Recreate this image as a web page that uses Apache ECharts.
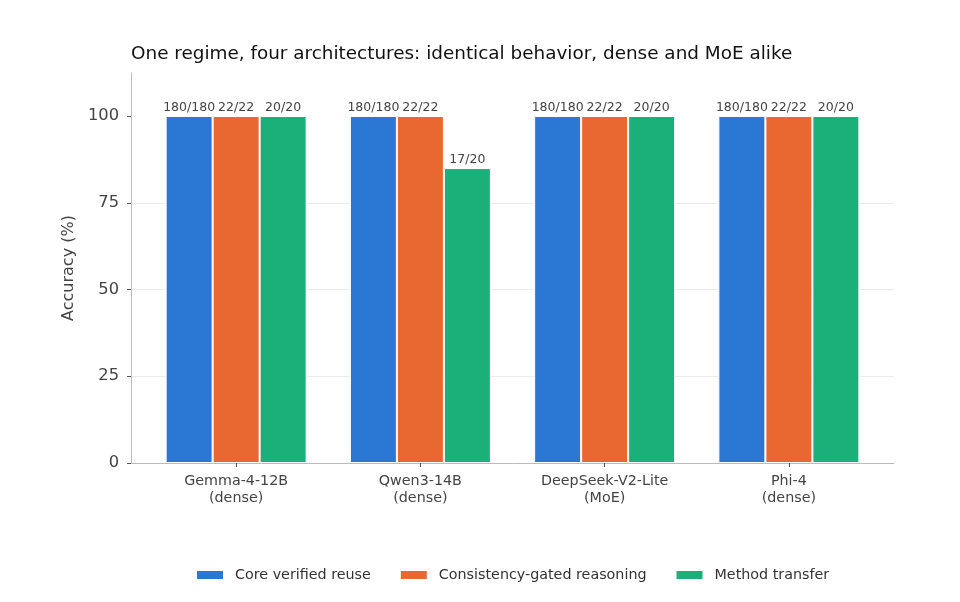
<!DOCTYPE html>
<html>
<head>
<meta charset="utf-8">
<script src="https://cdn.jsdelivr.net/npm/echarts@6/dist/echarts.min.js"></script>
<style>
  html, body { margin: 0; padding: 0; background: #fff; }
  #chart { width: 960px; height: 602px; }
</style>
</head>
<body>
<div id="chart"></div>
<script>
// data
const models = ['Gemma-4-12B\n(dense)', 'Qwen3-14B\n(dense)', 'DeepSeek-V2-Lite\n(MoE)', 'Phi-4\n(dense)']
const seriesNames = ['Core verified reuse', 'Consistency-gated reasoning', 'Method transfer']
const coreAcc = [100, 100, 100, 100]
const gatedAcc = [100, 100, 100, 100]
const transferAcc = [100, 85, 100, 100]
const coreLabels = ['180/180', '180/180', '180/180', '180/180']
const gatedLabels = ['22/22', '22/22', '22/22', '22/22']
const transferLabels = ['20/20', '17/20', '20/20', '20/20']
const yTicks = [0, 25, 50, 75, 100]
const colors = ['#2a77d4', '#e96832', '#1bb07a']

const font = 'DejaVu Sans'
const yMax = 112.4

let chart = echarts.init(document.getElementById('chart'))

function barSeries(name, values, labels, color) {
    return {
        name: name,
        type: 'bar',
        xAxisIndex: 1,
        yAxisIndex: 1,
        barWidth: 47,
        barGap: '0%',
        itemStyle: { color: color, borderColor: '#fff', borderWidth: 1 },
        label: {
            show: true,
            position: 'top',
            distance: 2,
            fontFamily: font,
            fontSize: 12.5,
            color: '#444',
            formatter: (p) => labels[p.dataIndex],
        },
        data: values,
    }
}

chart.setOption({
    animation: false,
    textStyle: { fontFamily: font },
    title: {
        text: 'One regime, four architectures: identical behavior, dense and MoE alike',
        left: 126,
        top: 40,
        textStyle: { fontFamily: font, fontSize: 18.4, fontWeight: 'normal', color: '#111' },
    },
    legend: {
        bottom: 15,
        left: 190,
        itemWidth: 28,
        itemHeight: 10,
        itemGap: 28,
        icon: 'rect',
        textStyle: { fontFamily: font, fontSize: 14.3, color: '#333', padding: [0, 0, 0, 6] },
        data: seriesNames,
    },
    grid: [
        // frame grid: spines, y ticks, gridlines
        { left: 131, right: 66, top: 73, bottom: 139 },
        // bars grid: inset like matplotlib's x margins
        { left: 144, right: 79, top: 73, bottom: 139 },
    ],
    xAxis: [
        {
            type: 'value',
            gridIndex: 0,
            min: 0,
            max: 1,
            axisLine: { show: true, lineStyle: { color: '#bbb', width: 1 } },
            axisTick: { show: false },
            axisLabel: { show: false },
            splitLine: { show: false },
        },
        {
            type: 'category',
            gridIndex: 1,
            data: models,
            axisLine: { show: false },
            axisTick: { show: true, alignWithLabel: true, length: 4, lineStyle: { color: '#555' } },
            axisLabel: { fontFamily: font, fontSize: 14.3, color: '#444', lineHeight: 17, margin: 10 },
        },
    ],
    yAxis: [
        {
            type: 'value',
            gridIndex: 0,
            min: 0,
            max: yMax,
            interval: 25,
            name: 'Accuracy (%)',
            nameLocation: 'middle',
            nameGap: 52,
            nameTextStyle: { fontFamily: font, fontSize: 16, color: '#444' },
            axisLine: { show: true, lineStyle: { color: '#bbb', width: 1 } },
            axisTick: { show: true, length: 4, customValues: yTicks, lineStyle: { color: '#555' } },
            axisLabel: {
                fontFamily: font,
                fontSize: 16.3,
                color: '#444',
                margin: 12,
                customValues: yTicks,
            },
            splitLine: { show: true, showMaxLine: false, lineStyle: { color: '#ebebeb', width: 1 } },
        },
        {
            type: 'value',
            gridIndex: 1,
            min: 0,
            max: yMax,
            show: false,
        },
    ],
    series: [
        barSeries(seriesNames[0], coreAcc, coreLabels, colors[0]),
        barSeries(seriesNames[1], gatedAcc, gatedLabels, colors[1]),
        barSeries(seriesNames[2], transferAcc, transferLabels, colors[2]),
    ],
})
</script>
</body>
</html>
